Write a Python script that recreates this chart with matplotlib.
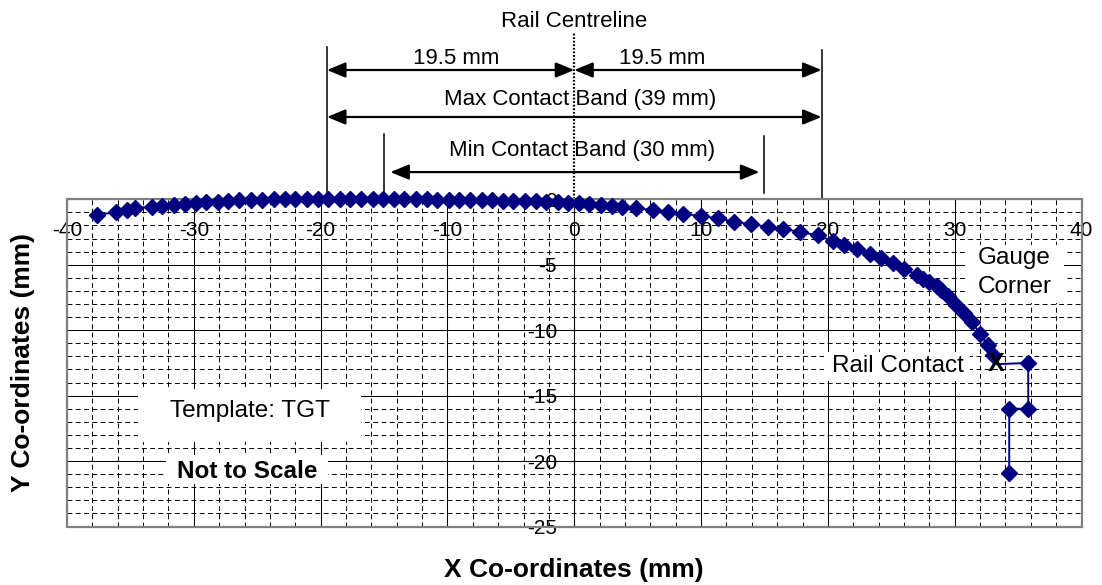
import numpy as np
import matplotlib
matplotlib.use('Agg')
import matplotlib.pyplot as plt
from matplotlib.patches import Rectangle

plt.rcParams['font.family'] = ['Liberation Sans', 'DejaVu Sans']
plt.rcParams['axes.unicode_minus'] = False

# rail head profile (mm)
profile_x = [-37.6, -36.1, -35.3, -34.6, -33.3, -32.5, -31.6, -30.7, -29.8, -29.0,
             -28.1, -27.3, -26.4, -25.5, -24.6, -23.7, -22.8, -22.0, -21.1, -20.2,
             -19.4, -18.5, -17.7, -16.8, -15.9, -15.1, -14.2, -13.4, -12.5, -11.6,
             -10.8, -9.9, -9.1, -8.2, -7.3, -6.5, -5.6, -4.8, -3.9, -3.0,
             -2.2, -1.3, -0.5, 0.4, 1.2, 2.1, 3.0, 3.8, 4.9, 6.2,
             7.4, 8.6, 10.0, 11.3, 12.6, 13.9, 15.3, 16.5, 17.8, 19.2,
             20.4, 21.3, 22.3, 23.3, 24.2, 25.1, 26.0, 27.0, 27.5, 28.0,
             28.6, 28.9, 29.5, 30.1, 30.7, 31.4, 32.0, 32.6, 33.0]
profile_y = [-1.2, -0.97, -0.78, -0.65, -0.58, -0.49, -0.41, -0.34, -0.28, -0.22,
             -0.17, -0.13, -0.09, -0.05, -0.02, 0.0, 0.02, 0.03, 0.04, 0.05,
             0.05, 0.05, 0.05, 0.04, 0.04, 0.03, 0.02, 0.01, 0.0, -0.01,
             -0.02, -0.03, -0.04, -0.05, -0.07, -0.08, -0.1, -0.12, -0.14, -0.16,
             -0.19, -0.22, -0.25, -0.3, -0.36, -0.44, -0.52, -0.6, -0.7, -0.8,
             -0.96, -1.1, -1.27, -1.46, -1.7, -1.9, -2.1, -2.25, -2.5, -2.75,
             -3.2, -3.46, -3.8, -4.16, -4.5, -4.9, -5.3, -5.77, -6.08, -6.3,
             -6.6, -6.9, -7.4, -8.1, -8.7, -9.4, -10.3, -11.1, -11.9]

# rail contact marker path
contact_x = [33.3, 35.8, 35.8, 34.3, 34.3]
contact_y = [-12.6, -12.5, -16.0, -16.0, -20.9]

x_ticks = [-40, -30, -20, -10, 0, 10, 20, 30, 40]
y_ticks = [0, -5, -10, -15, -20, -25]

half_band = 19.5
min_half_band = 15.0
half_label = '19.5 mm'
max_label = 'Max Contact Band (39 mm)'
min_label = 'Min Contact Band (30 mm)'

navy = '#000080'

fig = plt.figure(figsize=(11.02, 5.85), dpi=100)
ax = fig.add_axes([0.0608, 0.1, 0.9206, 0.5593])
ax.set_xlim(-40, 40)
ax.set_ylim(-25, 0)

ax.set_xticks(x_ticks)
ax.set_yticks(y_ticks)
ax.set_xticks(np.arange(-40, 41, 2), minor=True)
ax.set_yticks(np.arange(-25, 1, 1), minor=True)
ax.set_axisbelow(True)
ax.grid(which='major', color='black', lw=0.75, ls='-')
ax.grid(which='minor', color='black', lw=0.7, ls=(0, (5, 3.5)))

for s in ['top', 'right']:
    ax.spines[s].set_visible(False)
ax.spines['left'].set_position(('data', 0))
ax.spines['left'].set_color('black')
ax.spines['left'].set_linewidth(0.75)
ax.spines['bottom'].set_position(('data', 0))
ax.spines['bottom'].set_visible(False)

ax.tick_params(which='minor', length=0)
ax.tick_params(axis='x', which='major', direction='out', length=4, width=0.75,
               pad=11.5, labelsize=15)
ax.tick_params(axis='y', which='major', direction='out', length=5, width=0.75,
               pad=7.5, labelsize=15)

# grey plot-area frame
ax.add_patch(Rectangle((0, 0), 1, 1, transform=ax.transAxes, fill=False,
                       ec='#808080', lw=1.6, clip_on=False, zorder=2.6))

# white label boxes
for (x0, x1, y0, y1) in [(-34.4, -16.8, -18.55, -14.5),
                         (-32.2, -19.4, -21.75, -19.55),
                         (30.8, 38.6, -7.9, -3.5),
                         (19.7, 31.2, -13.9, -11.7)]:
    ax.add_patch(Rectangle((x0, y0), x1 - x0, y1 - y0, fc='white', ec='none', zorder=2))

ax.text(-25.6, -16.2, 'Template: TGT', ha='center', va='center', fontsize=17.5, zorder=3)
ax.text(-25.8, -20.8, 'Not to Scale', ha='center', va='center', fontsize=17.5,
        fontweight='bold', zorder=3)
ax.text(34.7, -5.6, 'Gauge\nCorner', ha='center', va='center', fontsize=17.5,
        linespacing=1.45, zorder=3)
ax.text(25.5, -12.7, 'Rail Contact', ha='center', va='center', fontsize=17.5, zorder=3)

# profile and contact
ax.plot(profile_x, profile_y, color=navy, lw=1.4, marker='D', ms=7.8,
        clip_on=False, zorder=4)
ax.plot(contact_x, contact_y, color=navy, lw=1.4, clip_on=False, zorder=4)
ax.plot(contact_x[1:], contact_y[1:], ls='none', color=navy, marker='D', ms=7.8,
        clip_on=False, zorder=4)
ax.text(contact_x[0], contact_y[0], 'X', ha='center', va='center', fontsize=18,
        fontweight='bold', zorder=5)

# dimension lines above the chart
ax.plot([0, 0], [0, 12.8], color='black', lw=1.6, ls=(0, (0.8, 0.8)), clip_on=False)
ax.plot([-half_band, -half_band], [0, 11.6], color='black', lw=1.1, clip_on=False)
ax.plot([half_band, half_band], [0, 11.4], color='black', lw=1.1, clip_on=False)
ax.plot([-min_half_band, -min_half_band], [0.5, 5.0], color='black', lw=1.1, clip_on=False)
ax.plot([min_half_band, min_half_band], [0.5, 4.8], color='black', lw=1.1, clip_on=False)

arrow = dict(arrowstyle='<|-|>,head_length=0.8,head_width=0.33', mutation_scale=14,
             lw=1.6, color='black', shrinkA=0, shrinkB=0)
ax.annotate('', xy=(0, 9.88), xytext=(-half_band, 9.88), arrowprops=arrow,
            annotation_clip=False)
ax.annotate('', xy=(half_band, 9.88), xytext=(0, 9.88), arrowprops=arrow,
            annotation_clip=False)
ax.annotate('', xy=(half_band, 6.29), xytext=(-half_band, 6.29), arrowprops=arrow,
            annotation_clip=False)
ax.annotate('', xy=(14.6, 2.08), xytext=(-14.5, 2.08), arrowprops=arrow,
            annotation_clip=False)

ax.text(0, 13.55, 'Rail Centreline', ha='center', va='center', fontsize=16)
ax.text(-9.3, 10.75, half_label, ha='center', va='center', fontsize=16)
ax.text(6.9, 10.75, half_label, ha='center', va='center', fontsize=16)
ax.text(0.5, 7.6, max_label, ha='center', va='center', fontsize=16)
ax.text(0.6, 3.75, min_label, ha='center', va='center', fontsize=16)

fig.text(574 / 1102, 1 - 570 / 585, 'X Co-ordinates (mm)', ha='center', va='center',
         fontsize=19, fontweight='bold')
fig.text(23 / 1102, 1 - 362 / 585, 'Y Co-ordinates (mm)', ha='center', va='center',
         rotation=90, fontsize=19, fontweight='bold')

fig.savefig('out.png', dpi=100)
